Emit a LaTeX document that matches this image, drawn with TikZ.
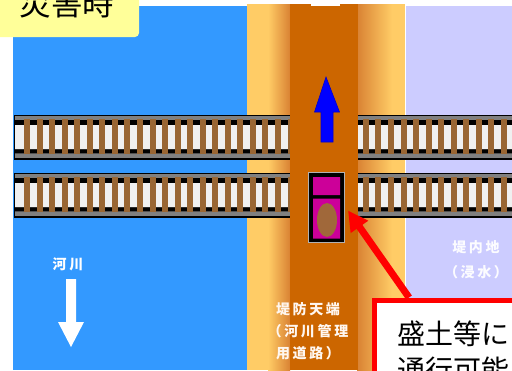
\documentclass[tikz,border=0pt]{standalone}
\usepackage{fontspec}
\newfontfamily\jp{Noto Sans CJK JP}
\usetikzlibrary{arrows.meta}
\definecolor{riverblue}{HTML}{3399FF}
\definecolor{leveelight}{HTML}{FFCC66}
\definecolor{leveedark}{HTML}{D98233}
\definecolor{roadbrown}{HTML}{CC6600}
\definecolor{inland}{HTML}{CCCCFF}
\definecolor{tiebrown}{HTML}{996633}
\definecolor{tagyellow}{HTML}{FFFF99}
\definecolor{carpink}{HTML}{CC0099}
\definecolor{mudbrown}{HTML}{A0683A}
\begin{document}
\begin{tikzpicture}[x=1pt,y=-1pt,
 lbl/.style={font=\jp\bfseries\fontsize{14}{22}\selectfont\addfontfeature{LetterSpace=19},align=center,inner sep=0pt},
 car/.style={fill=black,draw=gray!60,line width=1pt,minimum width=36pt,minimum height=70pt,inner sep=0pt},
 note/.style={draw=red,line width=5pt,fill=white,anchor=north west,align=left,text width=150pt,inner xsep=23pt,inner ysep=21pt,font=\jp\fontsize{28}{36}\selectfont}]
 \useasboundingbox (0,0) rectangle (512,370); \clip (0,0) rectangle (512,370);
 \fill[white] (0,0) rectangle (512,370);
 \fill[riverblue] (13,6) rectangle (247,370);
 \fill[leveelight] (247,4) rectangle (405,370);
 \shade[left color=leveelight,right color=leveedark] (268,4) rectangle (290,370);
 \shade[left color=leveedark,right color=leveelight] (357,4) rectangle (392,370);
 \fill[inland] (406,6) rectangle (512,370);
 \foreach \t in {115,173}{
  \fill[black] (14,\t) rectangle (520,\t+44.5);
  \fill[gray] (15.2,\t+1.2) rectangle (520,\t+43.2);
  \fill[black] (15.2,\t+5) rectangle (520,\t+10) (15.2,\t+34.3) rectangle (520,\t+38.3);
  \fill[gray!12] (15.2,\t+10) rectangle (520,\t+34.3);
  \foreach \i in {0,...,39}{\fill[tiebrown] (24+12.55*\i,\t+4.3) rectangle (30+12.55*\i,\t+39.3);}
 }
 \fill[roadbrown] (289.5,4) rectangle (357.5,370); \fill[white] (311,0) rectangle (340,5.5);
 \filldraw[fill=blue,draw=blue!80!black,line width=0.6pt] (321,142) -- (321,112) -- (314.5,112) -- (326,77) -- (339.5,112) -- (333,112) -- (333,142) -- cycle;
 \node[car] (car) at (326.5,207.5) {};
 \fill[carpink] (313,177) rectangle (340,195) (313,198.5) rectangle (340,238.5);
 \fill[mudbrown] (327,220) ellipse [x radius=10pt,y radius=17pt];
 \fill[white] (66,279) -- (76,279) -- (76,322) -- (84,322) -- (71,347) -- (58,322) -- (66,322) -- cycle;
 \node[lbl,text=white] (river) at (68,264) {河川};
 \node[lbl,text=white!94!inland] (inside) at (476,259.5) {堤内地\\[3pt]（浸水）};
 \node[lbl,text=white!94!orange] (crest) at (308,331) {堤防天端\\（河川管理\\用道路）};
 \node[note] (note) at (371.5,297.5) {盛土等に\\通行可能};
 \draw[red,line width=7pt,-{Triangle[length=20pt,width=20pt]}] ([xshift=37.5pt]note.north west) -- ([shift={(3,3)}]car.east);
 \fill[tagyellow,rounded corners=4pt] (-10,-10) rectangle (139,37);
 \node[font=\jp\fontsize{31.5}{31.5}\selectfont,anchor=base,inner sep=0pt] (title) at (67,15.5) {災害時};
\end{tikzpicture}
\end{document}
